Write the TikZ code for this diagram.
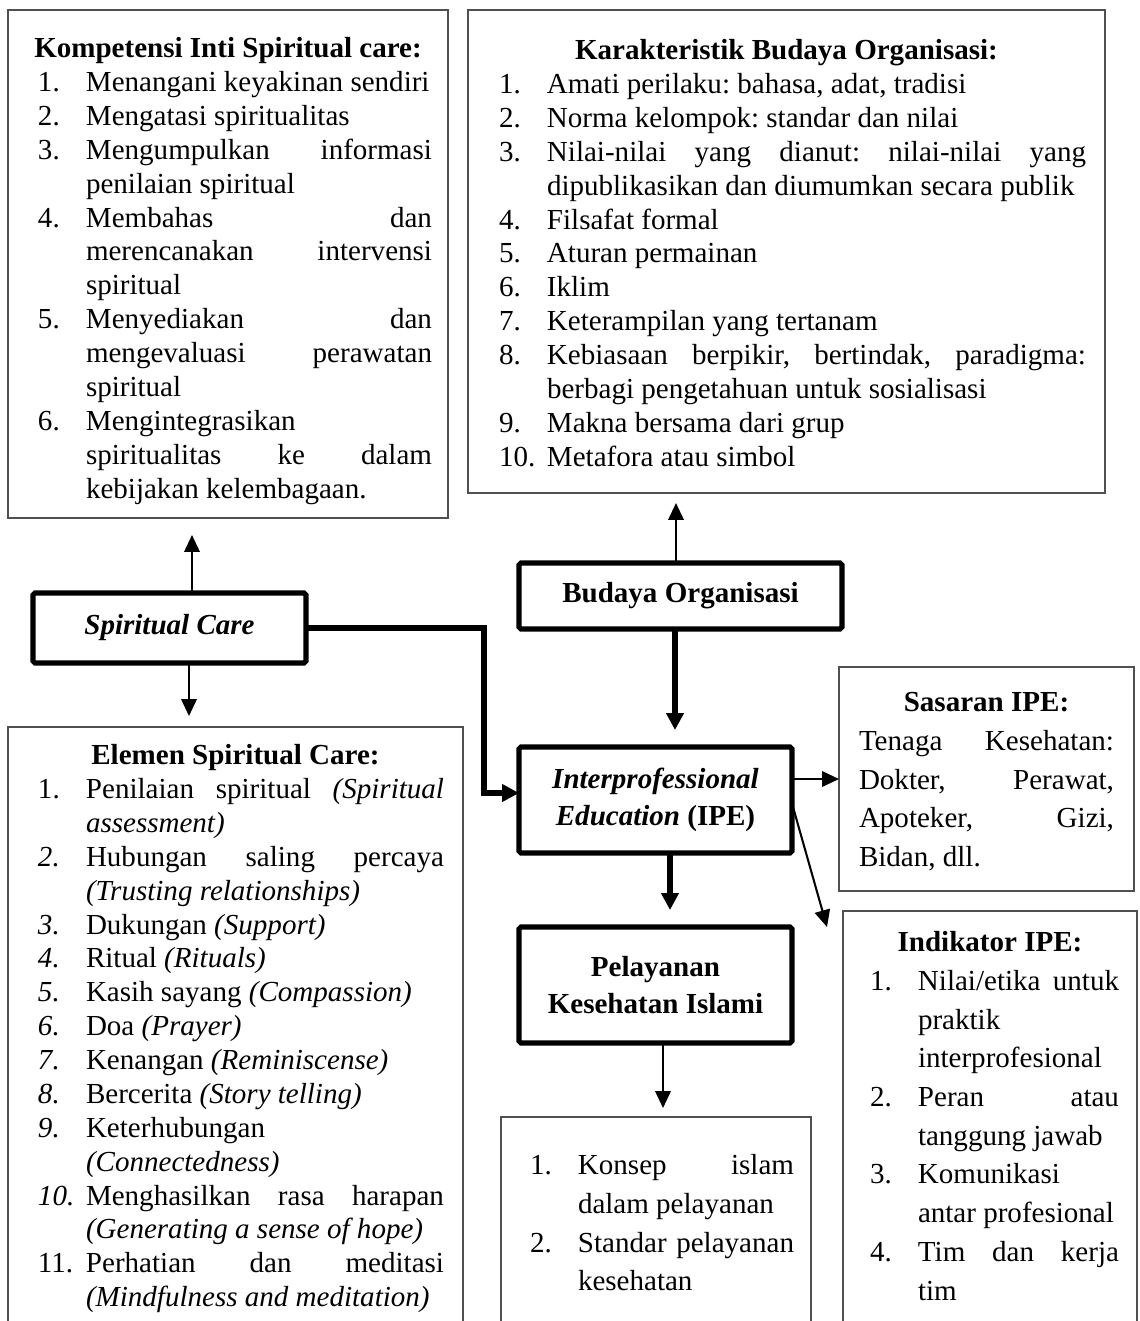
\documentclass[tikz,border=0pt]{standalone}
\usepackage{fontspec}
\setmainfont{Liberation Serif}
\usetikzlibrary{arrows.meta}

\definecolor{cFrame}{HTML}{505050}

\newdimen\pxu \pxu=0.4132pt
\newdimen\numw \numw=48\pxu
\newcommand{\itm}[2]{\par\hangindent=\numw\hangafter=1\noindent\strut\makebox[\numw][l]{#1}#2}
\newcommand{\boxhead}[1]{{\centering\bfseries\strut#1\par}}
% width, height, top gap, left gap, right gap, body (all in px)
\newcommand{\listtext}[6]{\parbox[c][#2\pxu][t]{#1\pxu}{\setlength{\parskip}{0pt}%
  \frenchspacing\hyphenpenalty=10000 \exhyphenpenalty=10000 \tolerance=10000 \hbadness=10000
  \leftskip=#4\pxu \rightskip=#5\pxu \vspace*{#3\pxu}#6\par}}

\begin{document}
\begin{tikzpicture}[x=\pxu, y=-\pxu,
    listbox/.style={draw=cFrame, line width=0.6pt, inner sep=0pt, outer sep=0pt,
      anchor=north west, font=\fontsize{12}{14}\selectfont},
    listwide/.style={listbox, font=\fontsize{12}{16}\selectfont},
    keybox/.style={draw, line width=2.1pt, rounded corners=0.8pt, inner sep=0pt,
      outer sep=0pt, anchor=north west, align=center,
      font=\fontsize{12}{15.5}\selectfont\bfseries},
    arr/.style={-{Triangle[length=7pt, width=6.4pt]}, line width=0.85pt},
    fatarr/.style={-{Triangle[length=7pt, width=7pt]}, line width=2.1pt},
  ]
  \useasboundingbox (0,0) rectangle (1140,1321);
  \fill[white] (0,0) rectangle (1140,1321);
  \clip (0,0) rectangle (1140,1321);

  % upper lists
  \node[listbox] (komp) at (8,10) {\listtext{440}{508}{23.9}{30}{16}{%
    \boxhead{Kompetensi Inti Spiritual care:}
    \itm{1.}{Menangani keyakinan sendiri}
    \itm{2.}{Mengatasi spiritualitas}
    \itm{3.}{Mengumpulkan informasi\linebreak penilaian spiritual}
    \itm{4.}{Membahas dan\linebreak merencanakan intervensi\linebreak spiritual}
    \itm{5.}{Menyediakan dan\linebreak mengevaluasi perawatan\linebreak spiritual}
    \itm{6.}{Mengintegrasikan\linebreak spiritualitas ke dalam\linebreak kebijakan kelembagaan.}}};
  \node[listbox] (karak) at (468,10) {\listtext{637}{483}{25.9}{31}{19}{%
    \boxhead{Karakteristik Budaya Organisasi:}
    \itm{1.}{Amati perilaku: bahasa, adat, tradisi}
    \itm{2.}{Norma kelompok: standar dan nilai}
    \itm{3.}{Nilai-nilai yang dianut: nilai-nilai yang\linebreak dipublikasikan dan diumumkan secara publik}
    \itm{4.}{Filsafat formal}
    \itm{5.}{Aturan permainan}
    \itm{6.}{Iklim}
    \itm{7.}{Keterampilan yang tertanam}
    \itm{8.}{Kebiasaan berpikir, bertindak, paradigma:\linebreak berbagi pengetahuan untuk sosialisasi}
    \itm{9.}{Makna bersama dari grup}
    \itm{10.}{Metafora atau simbol}}};

  % key concepts
  \node[keybox, minimum width=273\pxu, minimum height=70\pxu] (sc) at (33,593)
    {\textit{Spiritual Care}};
  \node[keybox, minimum width=323\pxu, minimum height=66\pxu] (budaya) at (519,563)
    {Budaya Organisasi};
  \node[keybox, minimum width=273\pxu, minimum height=106\pxu] (ipe) at (519,747)
    {\textit{Interprofessional}\\\textit{Education} (IPE)};
  \node[keybox, minimum width=273\pxu, minimum height=116\pxu] (pelayanan) at (519,927)
    {Pelayanan\\Kesehatan Islami};

  % lower lists
  \node[listbox] (elemen) at (8,727) {\listtext{455}{614}{13.9}{30}{19}{%
    \boxhead{Elemen Spiritual Care:}
    \itm{1.}{Penilaian spiritual \textit{(Spiritual}\linebreak \textit{assessment)}}
    \itm{\textit{2.}}{Hubungan saling percaya\linebreak \textit{(Trusting relationships)}}
    \itm{\textit{3.}}{Dukungan \textit{(Support)}}
    \itm{\textit{4.}}{Ritual \textit{(Rituals)}}
    \itm{\textit{5.}}{Kasih sayang \textit{(Compassion)}}
    \itm{\textit{6.}}{Doa \textit{(Prayer)}}
    \itm{\textit{7.}}{Kenangan \textit{(Reminiscense)}}
    \itm{\textit{8.}}{Bercerita \textit{(Story telling)}}
    \itm{\textit{9.}}{Keterhubungan\linebreak \textit{(Connectedness)}}
    \itm{\textit{10.}}{Menghasilkan rasa harapan\linebreak \textit{(Generating a sense of hope)}}
    \itm{11.}{Perhatian dan meditasi\linebreak \textit{(Mindfulness and meditation)}}}};
  \node[listwide] (sasaran) at (839,667) {\listtext{295}{224}{17.5}{20}{20}{%
    \boxhead{Sasaran IPE:}
    \noindent\strut Tenaga Kesehatan:\linebreak Dokter, Perawat,\linebreak Apoteker, Gizi,\linebreak Bidan, dll.}};
  \node[listwide] (indikator) at (843,911) {\listtext{294}{430}{13.5}{27}{18}{%
    \boxhead{Indikator IPE:}
    \itm{1.}{Nilai/etika untuk\linebreak praktik\linebreak interprofesional}
    \itm{2.}{Peran atau\linebreak tanggung jawab}
    \itm{3.}{Komunikasi\linebreak antar profesional}
    \itm{4.}{Tim dan kerja\linebreak tim}}};
  \node[listwide] (konsep) at (501,1117) {\listtext{310}{224}{30.5}{29}{17}{%
    \itm{1.}{Konsep islam\linebreak dalam pelayanan}
    \itm{2.}{Standar pelayanan\linebreak kesehatan}}};

  % arrow ends
  \coordinate (scUp) at (192,535);
  \coordinate (scDown) at (189,716);
  \coordinate (boUp) at (676,503);
  \coordinate (boDown) at (675,730);
  \coordinate (scBend) at (484,793);
  \coordinate (indTip) at (827,927);
  \coordinate (plTip) at (670,910);
  \coordinate (koTip) at (663,1108);

  \draw[arr] (sc.north -| scUp) -- (scUp);
  \draw[arr] (sc.south -| scDown) -- (scDown);
  \draw[arr] (budaya.north -| boUp) -- (boUp);
  \draw[fatarr] (budaya.south -| boDown) -- (boDown);
  \draw[fatarr] (sc.east) -| (scBend) -- (ipe.west |- scBend);
  \draw[arr] (ipe.east |- sasaran.west) -- (sasaran.west);
  \draw[arr] (ipe.east) ++(1,7) -- (indTip);
  \draw[fatarr] (ipe.south -| plTip) -- (plTip);
  \draw[arr] (pelayanan.south -| koTip) -- (koTip);
\end{tikzpicture}
\end{document}
